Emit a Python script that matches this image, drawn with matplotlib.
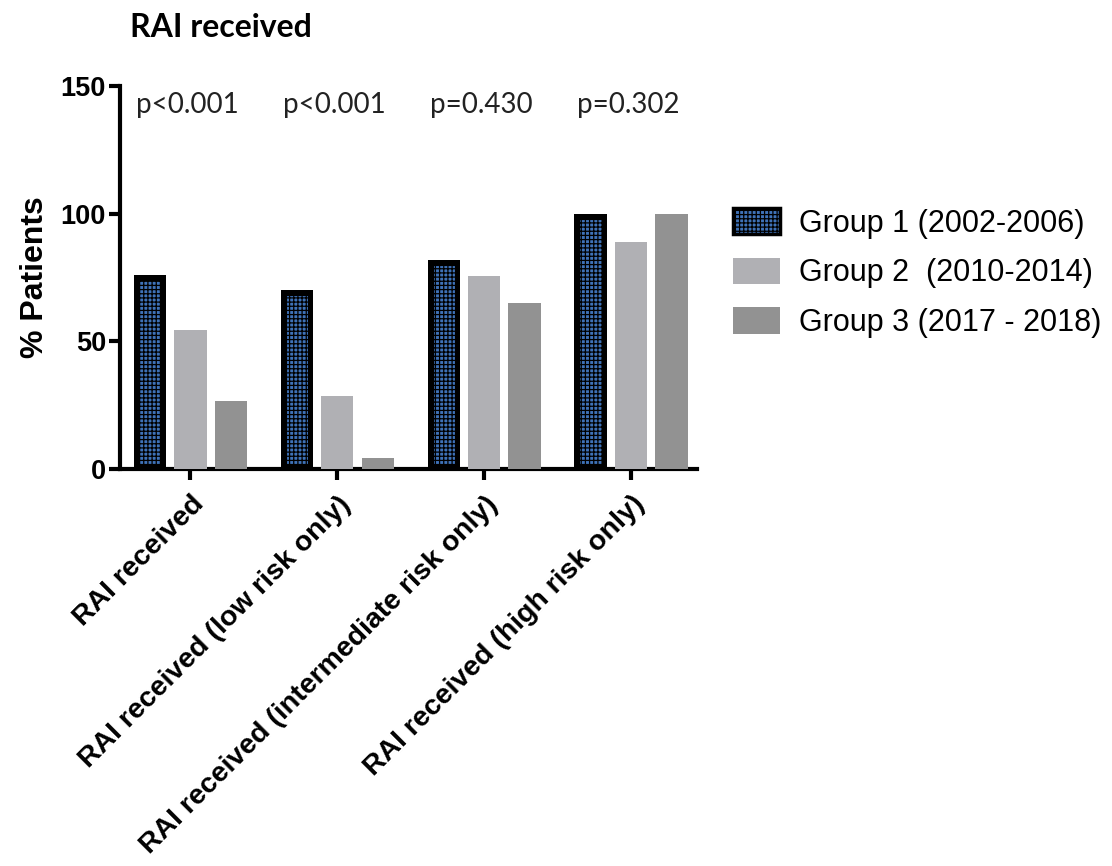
import numpy as np
import matplotlib.pyplot as plt
import matplotlib.patches as mpatches

# values
categories = ['RAI received', 'RAI received (low risk only)',
              'RAI received (intermediate risk only)', 'RAI received (high risk only)']
group1 = [76, 70, 82, 100]
group2 = [54.5, 28.5, 75.5, 89]
group3 = [26.5, 4.5, 65, 100]
pvalues = ['p<0.001', 'p<0.001', 'p=0.430', 'p=0.302']
labels = ['Group 1 (2002-2006)', 'Group 2  (2010-2014)', 'Group 3 (2017 - 2018)']

c1, c2, c3 = '#3f72b8', '#b0b0b4', '#929292'
plt.rcParams['hatch.linewidth'] = 0.9

fig = plt.figure(figsize=(11.12, 8.66), dpi=100)
ax = fig.add_axes([0.1079, 0.4584, 0.519, 0.4423])

x = np.arange(len(categories))
off = 0.275
w = 0.22

b1 = ax.bar(x - off, group1, w, color=c1, edgecolor='black',
            linewidth=8, hatch='++++', zorder=3)
# keep the thick outline inside the bar
for p in b1:
    p.set_clip_path(p)
b2 = ax.bar(x, group2, w, color=c2, zorder=3)
b3 = ax.bar(x + off, group3, w, color=c3, zorder=3)

for xi, p in zip(x, pvalues):
    ax.text(xi - 0.02, 142.5, p, ha='center', va='center', fontsize=20,
            family='Lato', color='#222222')

ax.set_xlim(-0.48, 3.45)
ax.set_ylim(0, 150)
ax.set_yticks([0, 50, 100, 150])
ax.set_xticks(x)
ax.set_xticklabels(categories, rotation=45, ha='right', va='top',
                   rotation_mode='anchor', fontsize=20.5, fontweight='bold',
                   family='Liberation Sans')
for t in ax.get_yticklabels():
    t.set_fontsize(19.5)
    t.set_fontweight('bold')
    t.set_family('Liberation Sans')
ax.tick_params(axis='y', width=3, length=8, pad=2)
ax.tick_params(axis='x', width=3, length=8, pad=8)

for s in ['top', 'right']:
    ax.spines[s].set_visible(False)
for s in ['left', 'bottom']:
    ax.spines[s].set_linewidth(3)

ax.set_ylabel('% Patients', fontsize=23, fontweight='bold',
              family='Liberation Sans', labelpad=8)

fig.text(130 / 1112, 1 - 37 / 866, 'RAI received', fontsize=23,
         fontweight='bold', family='Lato', va='baseline')

handles = [mpatches.Patch(facecolor=c1, edgecolor='black', linewidth=2.5, hatch='++++'),
           mpatches.Patch(facecolor=c2),
           mpatches.Patch(facecolor=c3)]
fig.legend(handles=handles, labels=labels, loc='upper left',
           bbox_to_anchor=(733 / 1112, 1 - 208 / 866), bbox_transform=fig.transFigure,
           frameon=False, borderpad=0, borderaxespad=0,
           handlelength=1.55, handleheight=0.95, handletextpad=0.6,
           labelspacing=0.62, prop={'family': 'Liberation Sans', 'size': 22})

fig.savefig('out.png', dpi=100)
